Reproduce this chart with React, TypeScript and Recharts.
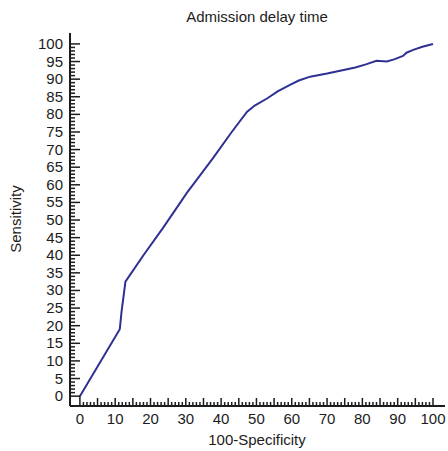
import { Line, LineChart, XAxis, YAxis } from "recharts";

// ROC curve points (100-Specificity, Sensitivity)
const fpr = [
  0, 11.3, 11.8, 12.9, 18, 23.5, 30.3, 37.7, 43, 47.3, 49.5, 53, 56, 59.5, 62,
  65.2, 70, 73.7, 78, 81, 84, 86.9, 89, 91.5, 92.5, 94.4, 97, 100,
];
const sensitivity = [
  0, 19, 24, 32.5, 40, 47.7, 57.7, 67.6, 75, 80.7, 82.5, 84.5, 86.5, 88.4,
  89.6, 90.7, 91.6, 92.4, 93.3, 94.2, 95.2, 95, 95.6, 96.6, 97.5, 98.3, 99.2,
  100,
];
const ticks = Array.from({ length: 101 }, (_, i) => i);

const data = fpr.map((x, i) => ({ x, y: sensitivity[i] }));

const INK = "#1c1c1c";
const FONT = "'Liberation Sans', Arial, sans-serif";

function XTick(props: any) {
  const { x, y, payload } = props;
  const v = payload.value as number;
  const len = v === 0 ? 10 : v % 5 === 0 ? 8 : 4;
  return (
    <g>
      <line x1={x} y1={y} x2={x} y2={y - len} stroke={INK} strokeWidth={1.5} />
      {v % 10 === 0 && (
        <text x={x} y={y + 18} textAnchor="middle" fontSize={15} fill={INK} fontFamily={FONT}>
          {v}
        </text>
      )}
    </g>
  );
}

function YTick(props: any) {
  const { x, y, payload } = props;
  const v = payload.value as number;
  const len = v % 5 === 0 ? 10 : 5;
  return (
    <g>
      <line x1={x} y1={y} x2={x + len} y2={y} stroke={INK} strokeWidth={1.5} />
      {v % 5 === 0 && (
        <text x={x - 7} y={y + 5} textAnchor="end" fontSize={15} fill={INK} fontFamily={FONT}>
          {v}
        </text>
      )}
    </g>
  );
}

const centered = (left: number, top: number): React.CSSProperties => ({
  position: "absolute",
  left,
  top,
  fontSize: 15,
  lineHeight: "17px",
  whiteSpace: "nowrap",
  transform: "translateX(-50%)",
});

export default function App() {
  return (
    <div
      style={{
        position: "absolute",
        left: 0,
        top: 0,
        width: 448,
        height: 451,
        overflow: "hidden",
        background: "#fff",
        fontFamily: FONT,
        color: INK,
      }}
    >
      <LineChart
        width={448}
        height={451}
        data={data}
        margin={{ top: 33, right: 3, bottom: 0, left: 0 }}
      >
        <XAxis
          dataKey="x"
          type="number"
          domain={[-2.8, 103.4]}
          ticks={ticks}
          interval={0}
          height={45}
          tickSize={0}
          tickMargin={0}
          tickLine={false}
          tick={<XTick />}
          axisLine={{ stroke: INK, strokeWidth: 2 }}
        />
        <YAxis
          type="number"
          domain={[-2.8, 103.1]}
          ticks={ticks}
          interval={0}
          width={70}
          tickSize={0}
          tickMargin={0}
          tickLine={false}
          tick={<YTick />}
          axisLine={{ stroke: INK, strokeWidth: 2 }}
        />
        <Line
          dataKey="y"
          type="linear"
          stroke="#2E3192"
          strokeWidth={2}
          dot={false}
          isAnimationActive={false}
        />
      </LineChart>
      <div style={centered(257, 8)}>Admission delay time</div>
      <div style={centered(257, 431)}>100-Specificity</div>
      <div
        style={{
          position: "absolute",
          left: 15,
          top: 219,
          fontSize: 15,
          lineHeight: "17px",
          whiteSpace: "nowrap",
          transform: "translate(-50%, -50%) rotate(-90deg)",
        }}
      >
        Sensitivity
      </div>
    </div>
  );
}
